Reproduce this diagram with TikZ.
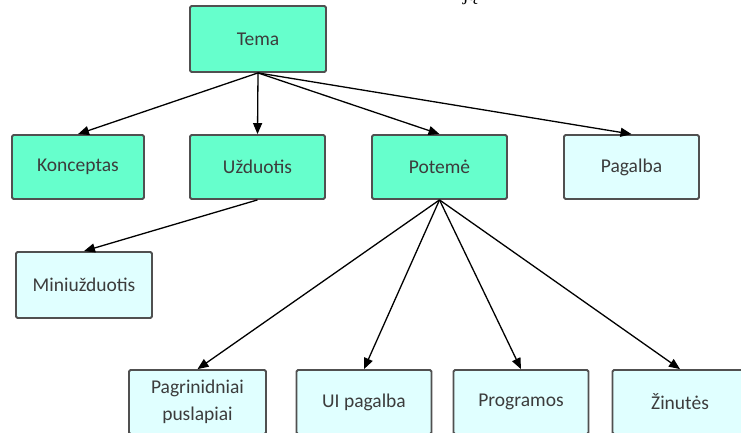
\documentclass[tikz,border=0pt]{standalone}
\usepackage{fontspec}
\setmainfont{Carlito}
\newfontfamily\serifpart{Liberation Serif}
\usetikzlibrary{arrows.meta}
\definecolor{topicfill}{HTML}{66FFCC}
\definecolor{helpfill}{HTML}{E0FFFF}
\definecolor{boxline}{HTML}{505050}
\definecolor{boxtext}{HTML}{3C3C3C}
\tikzset{
  box/.style={draw=boxline, line width=1.8pt, rounded corners=1.5pt,
    minimum width=135pt, minimum height=64pt, inner sep=0pt,
    text=boxtext, align=center,
    font=\fontsize{19.5pt}{27pt}\selectfont},
  topic/.style={box, fill=topicfill},
  help/.style={box, fill=helpfill},
  link/.style={draw=black, line width=1.3pt,
    -{Triangle[length=11pt,width=9pt]}}
}
\begin{document}
\begin{tikzpicture}[x=1pt,y=-1pt]
\useasboundingbox (0,0) rectangle (741,432);
\clip (0,0) rectangle (741,432);
% stray line of text from above, only its descenders show
\node[anchor=base, inner sep=0pt, font=\serifpart\fontsize{20pt}{24pt}\selectfont] (stray) at (470,0.5) {ją};

% top level
\node[topic, minimum height=66pt, minimum width=136pt] (tema) at (258,39) {Tema};

% second row
\node[topic, minimum width=132pt] (konc) at (78,167) {Konceptas};
\node[topic] (uzd) at (257.5,167) {Užduotis};
\node[topic] (pot) at (439.5,167) {Potemė};
\node[help] (pag) at (631.5,167) {Pagalba};

% under Užduotis
\node[help, minimum width=136pt, minimum height=66pt] (mini) at (84,285) {Miniužduotis};

% under Potemė
\node[help, minimum width=137pt] (pgr) at (197.5,402) {Pagrinidniai\\puslapiai};
\node[help] (ui) at (364,402) {UI pagalba};
\node[help] (prog) at (521,402) {Programos};
\node[help] (zin) at (680,402) {Žinutės};

% connectors
\draw[link] (tema.south) -- (konc.north);
\draw[link] (tema.south) -- (uzd.north);
\draw[link] (tema.south) -- (pot.north);
\draw[link] (tema.south) -- (pag.north);
\draw[link] (uzd.south) -- (mini.north);
\draw[link] (pot.south) -- (pgr.north);
\draw[link] (pot.south) -- (ui.north);
\draw[link] (pot.south) -- (prog.north);
\draw[link] (pot.south) -- (zin.north);
\end{tikzpicture}
\end{document}
